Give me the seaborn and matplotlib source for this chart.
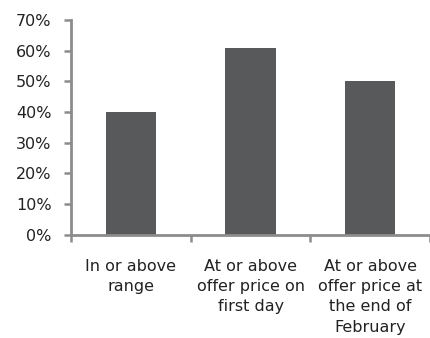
import matplotlib
matplotlib.use('Agg')
import matplotlib.pyplot as plt
import seaborn as sns
import pandas as pd
from matplotlib.ticker import FixedLocator, PercentFormatter

# 데이터
categories = ['In or above\nrange',
              'At or above\noffer price on\nfirst day',
              'At or above\noffer price at\nthe end of\nFebruary']
values = [40, 61, 50]

df = pd.DataFrame({'category': categories, 'value': values})

sns.set_style('white')
plt.rcParams['font.family'] = ['DejaVu Sans']

fig = plt.figure(figsize=(4.31, 3.38), dpi=100)
ax = fig.add_axes([0.165, 0.305, 0.833, 0.636])

sns.barplot(data=df, x='category', y='value', color='#58595B',
            width=0.42, saturation=1, linewidth=0, ax=ax)

ax.set_xlim(-0.5, 2.5)
ax.set_ylim(0, 70)
ax.set_yticks(range(0, 71, 10))
ax.yaxis.set_major_formatter(PercentFormatter(decimals=0))
ax.set_xlabel('')
ax.set_ylabel('')

# x축 눈금은 범주 경계에
ax.xaxis.set_minor_locator(FixedLocator([-0.5, 0.5, 1.5, 2.5]))
ax.tick_params(axis='x', which='major', length=0, pad=17, labelsize=11.5,
               colors='#222222')
ax.tick_params(axis='x', which='minor', length=5, width=1.8, color='#8c8c8c',
               direction='out', bottom=True)
ax.tick_params(axis='y', length=5, width=1.8, color='#8c8c8c', direction='out',
               left=True, labelsize=11.5, labelcolor='#222222', pad=9)
for lbl in ax.get_xticklabels():
    lbl.set_linespacing(1.45)

for side in ['top', 'right']:
    ax.spines[side].set_visible(False)
for side in ['left', 'bottom']:
    ax.spines[side].set_color('#8c8c8c')
    ax.spines[side].set_linewidth(2)

plt.savefig('out.png', dpi=100)
plt.close()
